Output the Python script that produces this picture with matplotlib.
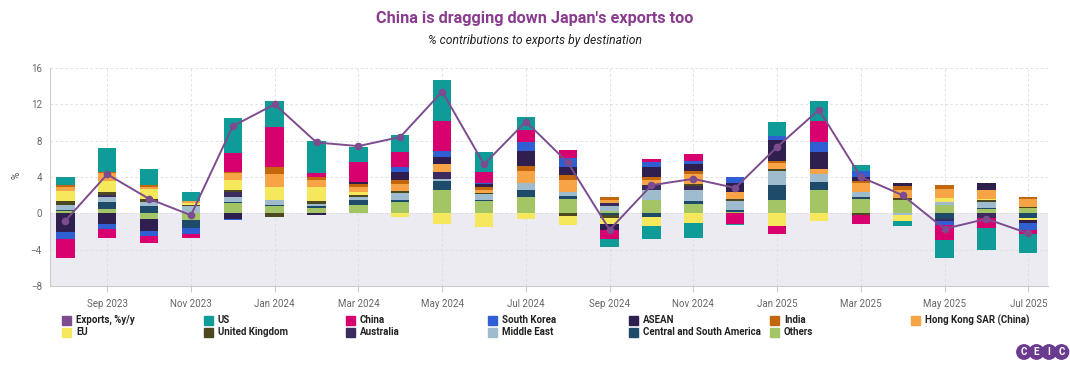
import numpy as np
import matplotlib
matplotlib.use("Agg")
import matplotlib.pyplot as plt
from matplotlib.patches import Rectangle

plt.rcParams['font.family'] = ['Roboto', 'DejaVu Sans']

months = ['Aug 2023', 'Sep 2023', 'Oct 2023', 'Nov 2023', 'Dec 2023', 'Jan 2024',
          'Feb 2024', 'Mar 2024', 'Apr 2024', 'May 2024', 'Jun 2024', 'Jul 2024',
          'Aug 2024', 'Sep 2024', 'Oct 2024', 'Nov 2024', 'Dec 2024', 'Jan 2025',
          'Feb 2025', 'Mar 2025', 'Apr 2025', 'May 2025', 'Jun 2025', 'Jul 2025']

exports = [-0.8, 4.3, 1.6, -0.2, 9.6, 12.0, 7.8, 7.4, 8.4, 13.4, 5.4, 10.1,
           5.6, -1.8, 3.1, 3.8, 2.8, 7.3, 11.4, 4.0, 2.0, -1.7, -0.6, -2.2]

us = [0.9, 2.6, 1.7, 1.0, 3.9, 2.95, 3.5, 1.65, 1.85, 4.5, 2.15, 1.45,
      0, -0.9, -1.45, -1.6, -0.1, 1.6, 2.2, 0.6, -0.5, -2.0, -2.4, -2.0]
china = [-2.1, -1.0, -0.7, -0.45, 2.0, 4.35, 0.45, 2.15, 1.65, 3.3, 1.2, 1.25,
         0.9, -1.0, 0.25, 0.75, -1.15, -0.9, 2.3, -0.95, 0, -1.65, -1.1, -0.5]
south_korea = [-0.85, -0.55, -0.6, -0.65, -0.1, 0, 0, 0, 0.55, 0.6, 0.15, 1.0,
               0.9, 0, 0.65, 0.35, 0.7, 0.45, 1.1, 0.75, 0, -0.5, 0, -0.7]
asean = [-2.0, -1.2, -1.3, 0, -0.6, 0, -0.2, 0.2, 0.9, 0.8, 0.3, 1.65,
         0.9, -0.6, 1.0, 0.75, 1.0, 2.3, 1.85, 0.35, 0.35, 0, 0.7, -0.4]
india = [0.2, 0.2, 0.25, 0, 0.2, 0.75, 0.35, 0.35, 0.45, 0, 0.3, 0.6,
         0.6, 0.4, 0.35, 0.3, 0, 0.2, 0, 0.25, 0.45, 0.5, 0, 0.2]
hong_kong = [0.5, 0.8, 0.25, 0.2, 0.75, 1.4, 0.75, 0.6, 0.75, 0.85, 0.35, 1.3,
             1.35, 0.3, 0.6, 1.1, 0.75, 0.65, 0.6, 1.0, 0.9, 1.0, 1.0, 0.9]
eu = [1.1, 1.3, 1.1, 0.25, 1.1, 1.45, 1.55, 0.25, -0.35, -1.15, -1.45, -0.6,
      -1.0, -0.7, -1.0, -1.1, 0, -1.35, -0.8, 0, -0.65, 0.35, 0.1, -0.2]
uk = [0.4, 0.25, 0.3, 0.1, 0.25, -0.4, 0.3, 0.2, 0.2, 0, 0.15, 0,
      -0.3, -0.3, 0, 0.2, 0.2, 0.2, 0, -0.2, 0.2, 0, 0.25, 0.1]
australia = [0, 0.3, 0, 0, 0.5, 0, 0, 0, 0, 0.8, 0, 0,
             0, 0.35, 0.55, 0.5, 0, 0, 0, 0, 0, -0.2, -0.5, 0]
middle_east = [0.55, 0.55, 0.4, 0.8, 0.6, 0.6, 0.2, 0.35, 0.8, 0.25, 0.6, 0.75,
               0.35, 0.5, 1.1, 1.2, 1.0, 1.55, 0.9, 0.55, -0.2, 0.35, 0.65, 0]
csa = [0.1, 0.7, 0.85, -0.9, 0.1, 0.1, 0.25, 0.6, 0.2, 0.95, 0.15, 0.8,
       0.35, -0.2, -0.35, 0.35, 0.2, 1.7, 0.85, 0.25, 0, -0.6, 0.15, -0.5]
others = [0.3, 0.5, -0.6, -0.7, 1.1, 0.8, 0.6, 0.9, 1.25, 2.6, 1.35, 1.8,
          1.6, 0.3, 1.45, 1.0, 0.15, 1.45, 2.55, 1.55, 1.45, 0.95, 0.45, 0.6]

# stacked from zero outwards
series = [
    ('Others', others, '#a3c565'),
    ('Central and South America', csa, '#1f4b6b'),
    ('Middle East', middle_east, '#9fbccf'),
    ('Australia', australia, '#3b2b5f'),
    ('United Kingdom', uk, '#4d4820'),
    ('EU', eu, '#f5e85c'),
    ('Hong Kong SAR (China)', hong_kong, '#f6a445'),
    ('India', india, '#c4660c'),
    ('ASEAN', asean, '#2e1f4e'),
    ('South Korea', south_korea, '#2f5fd2'),
    ('China', china, '#d8006e'),
    ('US', us, '#0f9b97'),
]
line_color = '#7d4b8f'

fig = plt.figure(figsize=(10.7, 3.65), dpi=100)
ax = fig.add_axes([0.047, 0.216, 0.932, 0.598])

x = np.arange(len(months))
pos_base = np.zeros(len(months))
neg_base = np.zeros(len(months))
for name, vals, col in series:
    v = np.array(vals, dtype=float)
    bottom = np.where(v >= 0, pos_base, neg_base)
    ax.bar(x, v, 0.44, bottom=bottom, color=col, linewidth=0, zorder=3)
    pos_base += np.clip(v, 0, None)
    neg_base += np.clip(v, None, 0)

ax.plot(x, exports, color=line_color, lw=1.4, marker='o', ms=4.5, zorder=5)

ax.axhspan(-8, 0, color='#ecebf1', zorder=0, lw=0)
ax.set_xlim(-0.36, 23.46)
ax.set_ylim(-8, 16)
ax.set_yticks([-8, -4, 0, 4, 8, 12, 16])
ax.set_xticks(x[1::2])
ax.set_xticklabels(months[1::2])
ax.tick_params(axis='both', labelsize=7, colors='#666666', length=0, pad=6)
ax.tick_params(axis='x', length=4, color='#cccccc', pad=5)
ax.grid(True, color='#dcdcdc', linestyle=(0, (3, 3)), lw=0.6, zorder=1)
for s in ['top', 'right']:
    ax.spines[s].set_visible(False)
ax.spines['left'].set_color('#cccccc')
ax.spines['bottom'].set_color('#cccccc')
fig.text(0.011, 0.52, '%', rotation=90, fontsize=7, color='#444444', va='center')

fig.text(0.5, 0.95, "China is dragging down Japan's exports too", ha='center', va='center',
         fontsize=11.7, fontweight='bold', color='#8a3d8f')
fig.text(0.5, 0.89, '% contributions to exports by destination', ha='center', va='center',
         fontsize=8.7, style='italic', color='#222222')

# legend, row by row
rows = [
    [('Exports, %y/y', line_color), ('US', '#0f9b97'), ('China', '#d8006e'),
     ('South Korea', '#2f5fd2'), ('ASEAN', '#2e1f4e'), ('India', '#c4660c'),
     ('Hong Kong SAR (China)', '#f6a445')],
    [('EU', '#f5e85c'), ('United Kingdom', '#4d4820'), ('Australia', '#3b2b5f'),
     ('Middle East', '#9fbccf'), ('Central and South America', '#1f4b6b'),
     ('Others', '#a3c565')],
]
col_x = [62, 204, 346, 488, 629, 770, 911]
row_y = [320, 332]
for r, items in enumerate(rows):
    for c, (lab, col) in enumerate(items):
        px, py = col_x[c], row_y[r]
        fig.patches.append(Rectangle((px / 1070, 1 - (py + 4.5) / 365), 9 / 1070, 9 / 365,
                                     transform=fig.transFigure, color=col))
        fig.text((px + 14) / 1070, 1 - py / 365, lab, fontsize=7, fontweight='bold',
                 color='#222222', va='center')

# CEIC logo
for i, ch in enumerate('CEIC'):
    fig.text((1024 + i * 12.5) / 1070, 1 - 352 / 365, ch, fontsize=7, fontweight='bold',
             color='white', ha='center', va='center',
             bbox=dict(boxstyle='circle,pad=0.3', fc='#6a3b8f', ec='none'))

fig.savefig('out.png', dpi=100)
